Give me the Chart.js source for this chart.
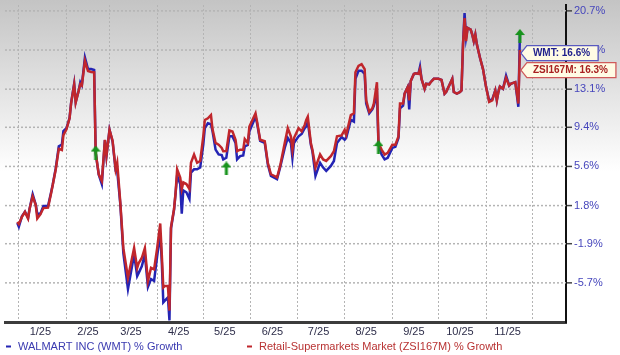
<!DOCTYPE html>
<html><head><meta charset="utf-8">
<script src="https://cdn.jsdelivr.net/npm/chart.js@4.4.1/dist/chart.umd.min.js"></script>
<style>html,body{margin:0;padding:0;background:#fff;overflow:hidden}#wrap{width:620px;height:355px;position:relative}</style>
</head><body><div id="wrap"><canvas id="c" width="620" height="355"></canvas></div>
<script>
// Day of year 2025 (0 = Jan 1, -1 = Dec 31 2024)
const days = [-1,0,2,4,6,7,9,11,12,14,16,19,21,22,24,26,28,29,31,33,34,36,37,39,40,41,43,45,47,49,
50,52,54,56,57,59,61,63,64,66,68,71,75,77,78,80,82,84,86,88,90,92,93,94,95,97,98,99,101,102,
103,105,106,107,109,111,112,114,116,118,120,121,123,125,126,128,130,132,133,135,137,139,141,142,144,146,147,149,150,154,
155,157,160,162,164,168,170,173,175,177,178,179,182,184,186,187,188,190,191,193,196,198,200,203,205,207,210,212,213,216,
218,219,221,223,225,226,228,230,231,233,234,236,238,240,243,245,247,248,250,251,253,254,255,257,258,260,261,262,264,265,
267,268,270,273,275,277,278,280,282,283,285,287,288,289,290,291,292,294,295,296,297,298,300,302,304,306,308,310,311,312,
313,315,317,319,320,323,325,326];
const wmtGrowth = [0.1,-0.26,0.75,1.2,0.6,1.5,2.9,1.9,1.0,1.02,1.75,1.75,3.1,3.8,5.4,7.56,7.71,9.03,9.31,10.3,11.75,13.62,11.87,13.0,13.78,13.5,16.17,15.05,15.05,14.96,
6.92,4.8,3.89,8.15,6.6,9.15,8.0,5.2,5.2,2.0,-2.81,-6.29,-2.94,-5.04,-4.73,-4.1,-2.94,-6.09,-5.33,-5.52,-3.1,-0.9,-3.6,-7.6,-7.43,-7.12,-9.35,-0.42,1.4,3.0,
4.72,3.89,1.02,3.28,3.09,2.45,5.0,5.32,5.32,5.49,7.71,9.31,9.79,9.7,9.03,7.23,6.76,6.7,6.28,6.44,8.52,8.52,7.88,6.28,6.6,6.66,7.56,7.7,9.0,10.43,
9.79,8.07,7.88,5.8,4.69,4.36,5.49,7.4,8.36,7.88,6.44,7.88,8.52,8.75,9.31,9.48,9.95,7.7,7.08,4.69,5.96,5.49,5.17,5.65,6.13,7.88,8.45,8.19,8.36,10.11,
9.95,14.1,14.89,14.89,14.58,11.71,10.75,11.13,11.5,12.66,7.7,6.76,6.28,6.44,7.4,7.5,8.36,11.23,11.5,12.66,13.3,11.13,13.9,14.58,14.64,14.6,15.27,14.1,13.14,13.62,
13.6,13.8,14.1,14.1,14.0,12.66,12.82,13.46,14.1,12.82,12.66,12.82,12.98,17.45,20.48,18.1,19.04,18.88,18.4,17.76,18.4,17.45,16.17,15.05,13.3,12.0,12.1,12.98,12.02,12.82,
13.36,13.14,14.41,13.46,13.62,13.78,11.39,18.4];
const zsiGrowth = [0.2,0.0,0.7,1.18,0.54,1.47,2.7,1.85,0.54,0.94,1.56,1.6,3.0,3.76,5.3,7.3,7.2,8.64,9.2,10.27,11.71,13.55,11.8,12.98,13.6,13.46,15.85,14.86,14.77,14.74,
6.92,4.84,4.2,8.19,6.63,9.15,8.1,5.32,5.96,2.13,-2.33,-5.21,-2.33,-4.25,-3.77,-3.29,-2.33,-5.52,-4.25,-4.4,-2.33,0.06,-2.94,-6.16,-6.0,-6.0,-8.39,-0.3,1.49,3.09,
5.32,4.53,3.41,4.05,3.89,3.41,5.96,6.76,5.96,6.13,8.52,10.11,10.27,10.58,9.22,7.88,7.71,7.4,7.08,7.1,9.09,9.0,8.19,7.08,7.23,7.23,8.26,7.88,9.48,10.75,
9.95,8.19,8.04,5.96,4.84,4.53,5.65,7.88,9.31,8.52,7.23,8.36,9.31,9.0,9.63,10.11,10.43,7.88,7.23,5.49,6.76,6.28,6.13,6.6,7.08,8.52,8.61,9.15,8.67,10.58,
10.75,14.74,15.37,15.53,15.05,12.02,10.91,11.23,11.71,13.78,7.88,7.23,6.76,6.92,7.71,7.71,8.52,11.71,11.71,12.66,13.3,12.02,13.9,14.58,14.64,14.58,15.05,14.1,13.14,13.62,
13.55,13.78,14.1,14.1,14.0,12.66,12.82,13.46,14.1,12.82,12.66,12.82,12.98,17.45,20.0,17.76,19.04,18.88,18.4,17.76,18.4,17.45,16.17,15.05,13.3,11.87,12.02,12.98,12.02,12.82,
13.36,13.14,14.2,13.46,13.62,13.78,11.71,16.9];
const arrowDays = [50,135,234,326];
const arrowValues = [6.95,5.4,7.48,18.26];
const monthLabels = ['1/25','2/25','3/25','4/25','5/25','6/25','7/25','8/25','9/25','10/25','11/25'];
const yTickValues = [-5.7,-1.9,1.8,5.6,9.4,13.1,16.9,20.7];
const seriesNames = ['WALMART INC (WMT) % Growth','Retail-Supermarkets Market (ZSI167M) % Growth'];
const lastValueLabels = ['WMT: 16.6%','ZSI167M: 16.3%'];
const lastValueAnchors = [16.6, 16.3];

const FONT = 'Arial, "Liberation Sans", sans-serif';
const BLUE = '#2424b4', RED = '#c0262c';
const GRID = '#b4b4b4';
const doy = (m, d) => Math.round((Date.UTC(2025, m, d) - Date.UTC(2025, 0, 1)) / 86400000);
const monthStarts = Array.from({length: 12}, (_, m) => doy(m, 1));
const midMonths = monthLabels.map((_, m) => doy(m, 15));

// green up-arrow point style
const arrowImg = document.createElement('canvas');
arrowImg.width = 10; arrowImg.height = 14;
(function(){
  const g = arrowImg.getContext('2d');
  g.fillStyle = '#17931c';
  g.beginPath(); g.moveTo(5, 0); g.lineTo(10, 6); g.lineTo(0, 6); g.closePath(); g.fill();
  g.fillRect(3.5, 6, 3, 8);
})();

const bgPlugin = {
  id: 'bg',
  beforeDraw(chart) {
    const {ctx, width, height} = chart;
    const gr = ctx.createLinearGradient(0, 0, 0, 172);
    gr.addColorStop(0, '#c4c4c4');
    gr.addColorStop(1, '#ffffff');
    ctx.save(); ctx.fillStyle = '#fff'; ctx.fillRect(0, 0, width, height);
    ctx.fillStyle = gr; ctx.fillRect(0, 0, width, 172); ctx.restore();
  }
};

// horizontal value grid lines (dotted) + tick marks, placed by the y scale
const yGridPlugin = {
  id: 'yGrid',
  beforeDatasetsDraw(chart) {
    const {ctx} = chart;
    const a = chart.chartArea, ys = chart.scales.y;
    ctx.save();
    yTickValues.forEach(v => {
      const y = ys.getPixelForValue(v);
      ctx.lineWidth = 1.5;
      ctx.strokeStyle = GRID; ctx.setLineDash([2, 2]);
      ctx.beginPath(); ctx.moveTo(a.left, y); ctx.lineTo(a.right, y); ctx.stroke();
      ctx.strokeStyle = '#444'; ctx.setLineDash([]);
      ctx.beginPath(); ctx.moveTo(a.right + 1, y); ctx.lineTo(a.right + 6, y); ctx.stroke();
    });
    ctx.restore();
  }
};

const legendPlugin = {
  id: 'customLegend',
  afterDraw(chart) {
    const {ctx} = chart;
    const y = chart.height - 8.5;
    const left = chart.chartArea.left;
    const items = [[left, BLUE, '#3a3ab0'], [left + 241, RED, '#b83232']];
    ctx.save();
    ctx.font = '11px ' + FONT; ctx.textBaseline = 'middle';
    items.forEach(([x, c, tc], i) => {
      ctx.fillStyle = c; ctx.fillRect(x + 1, y - 1, 5, 2);
      ctx.fillStyle = tc; ctx.fillText(seriesNames[i], x + 13, y);
    });
    ctx.restore();
  }
};

const lastLabelPlugin = {
  id: 'lastLabels',
  afterDraw(chart) {
    const {ctx} = chart;
    const xs = chart.scales.x, ys = chart.scales.y;
    const tipX = xs.getPixelForValue(days[days.length - 1]) + 1;
    const styles = [[ '#5a5ac0', '#1e1e8c'], ['#d05a5a', '#a82020']];
    let top = ys.getPixelForValue(lastValueAnchors[0]) - 7.5;
    ctx.save();
    ctx.font = 'bold 10px ' + FONT; ctx.textBaseline = 'middle';
    lastValueLabels.forEach((t, i) => {
      const h = 15, w = ctx.measureText(t).width + 20;
      const bottom = top + h, yc = top + h / 2;
      ctx.beginPath();
      ctx.moveTo(tipX, yc); ctx.lineTo(tipX + 6, top); ctx.lineTo(tipX + w, top);
      ctx.lineTo(tipX + w, bottom); ctx.lineTo(tipX + 6, bottom); ctx.closePath();
      ctx.fillStyle = '#fffbe4'; ctx.fill();
      ctx.lineWidth = 1.3; ctx.strokeStyle = styles[i][0]; ctx.stroke();
      ctx.fillStyle = styles[i][1]; ctx.fillText(t, tipX + 12, yc + 0.5);
      top = bottom + 2;
    });
    ctx.restore();
  }
};

const pts = arr => days.map((d, i) => ({x: d, y: arr[i]}));
const noPad = s => { s.paddingTop = 0; s.paddingBottom = 0; s.paddingLeft = 0; s.paddingRight = 0; };

new Chart(document.getElementById('c'), {
  type: 'line',
  data: {
    datasets: [
      {label: seriesNames[1], data: pts(zsiGrowth), borderColor: RED, borderWidth: 2.5, pointRadius: 0, tension: 0, order: 1},
      {label: seriesNames[0], data: pts(wmtGrowth), borderColor: BLUE, borderWidth: 2.5, pointRadius: 0, tension: 0, order: 2},
      {type: 'scatter', label: 'events', data: arrowDays.map((d, i) => ({x: d, y: arrowValues[i]})),
       pointStyle: arrowImg, showLine: false, order: 0}
    ]
  },
  options: {
    responsive: false, animation: false,
    layout: {padding: {left: 0, right: 0, top: 0, bottom: 18}},
    plugins: {legend: {display: false}, tooltip: {enabled: false}},
    scales: {
      x: {
        type: 'linear', min: -9, max: 356,
        afterBuildTicks: s => {
          s.ticks = monthStarts.concat(midMonths).sort((a, b) => a - b).map(v => ({value: v}));
        },
        ticks: {
          autoSkip: false, maxRotation: 0, padding: 3, color: '#2e2e4a',
          font: {size: 11, family: FONT},
          callback: v => { const i = midMonths.indexOf(v); return i >= 0 ? monthLabels[i] : ''; }
        },
        grid: {
          color: c => (c.tick && monthStarts.includes(c.tick.value)) ? GRID : 'rgba(0,0,0,0)',
          lineWidth: 1, drawTicks: false
        },
        border: {display: true, color: '#3c3c3c', width: 3, dash: [2, 2]},
        afterFit: s => { s.height = 15; noPad(s); }
      },
      y: {
        position: 'right', min: -9.5, max: 21.27,
        afterBuildTicks: s => { s.ticks = yTickValues.map(v => ({value: v})); },
        ticks: {color: '#4646bc', padding: 0, font: {size: 11, family: FONT},
          callback: v => v.toFixed(1) + '%'},
        grid: {display: false},
        border: {display: true, color: '#111', width: 2},
        afterFit: s => { s.width = 54; noPad(s); }
      }
    }
  },
  plugins: [bgPlugin, yGridPlugin, legendPlugin, lastLabelPlugin]
});
</script></body></html>
